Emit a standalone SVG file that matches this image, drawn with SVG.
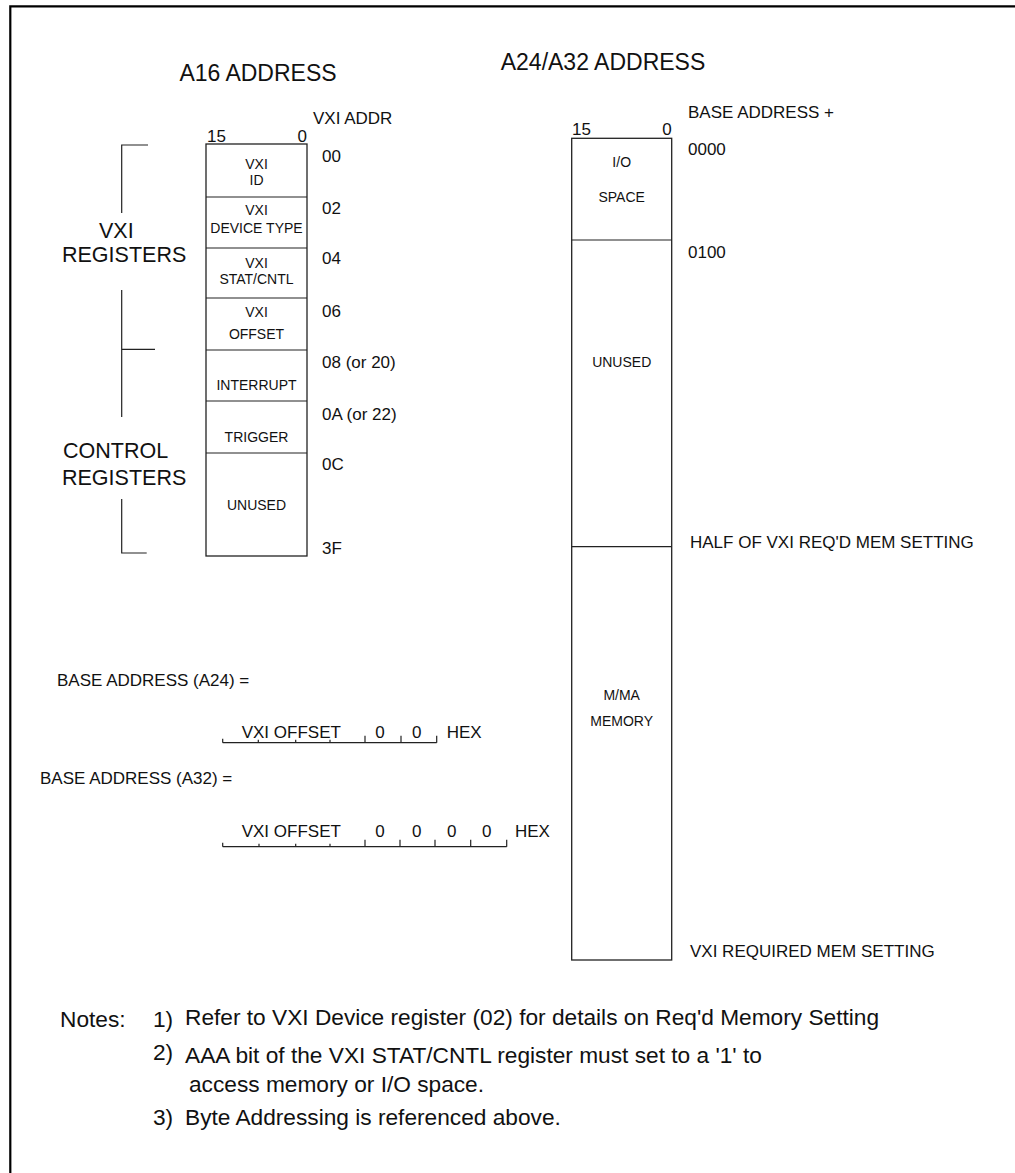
<svg xmlns="http://www.w3.org/2000/svg" width="1015" height="1173" viewBox="0 0 1015 1173">
<style>
text{font-family:"Liberation Sans",Arial,sans-serif;fill:#111}
.reg{font-size:14px;text-anchor:middle}
.lbl{font-size:17px}
.big{font-size:21.5px}
.ttl{font-size:23px;text-anchor:middle}
.note{font-size:22.7px}
.box{fill:none;stroke:#222;stroke-width:1.3}
.ln{fill:none;stroke:#222;stroke-width:1.2}
</style>
<rect width="1015" height="1173" fill="#fff"/>
<path d="M10.3,1173 V6.3 H1015" fill="none" stroke="#000" stroke-width="2.2"/>

<text class="ttl" x="258" y="81">A16 ADDRESS</text>
<text class="ttl" x="603" y="70">A24/A32 ADDRESS</text>

<g id="a16-stack">
<text class="lbl" x="313" y="124">VXI ADDR</text>
<text class="lbl" x="207" y="142">15</text>
<text class="lbl" x="307" y="142" text-anchor="end">0</text>
<rect class="box" x="206" y="144" width="101" height="412"/>
<path class="ln" d="M206,197H307M206,248H307M206,298H307M206,350H307M206,401H307M206,453H307"/>
</g>
<g id="reg-id"><text class="reg" x="256.5" y="169">VXI</text><text class="reg" x="256.5" y="185">ID</text></g>
<g id="reg-devtype"><text class="reg" x="256.5" y="215">VXI</text><text class="reg" x="256.5" y="233">DEVICE TYPE</text></g>
<g id="reg-stat"><text class="reg" x="256.5" y="268">VXI</text><text class="reg" x="256.5" y="284">STAT/CNTL</text></g>
<g id="reg-offset"><text class="reg" x="256.5" y="317">VXI</text><text class="reg" x="256.5" y="339">OFFSET</text></g>
<g id="reg-int"><text class="reg" x="256.5" y="390">INTERRUPT</text></g>
<g id="reg-trig"><text class="reg" x="256.5" y="442">TRIGGER</text></g>
<g id="reg-unused"><text class="reg" x="256.5" y="510">UNUSED</text></g>

<g id="a16-addr">
<text class="lbl" x="322" y="162">00</text>
<text class="lbl" x="322" y="214">02</text>
<text class="lbl" x="322" y="264">04</text>
<text class="lbl" x="322" y="317">06</text>
<text class="lbl" x="322" y="368">08 (or 20)</text>
<text class="lbl" x="322" y="420">0A (or 22)</text>
<text class="lbl" x="322" y="470">0C</text>
<text class="lbl" x="322" y="554">3F</text>
</g>

<g id="brackets">
<path class="ln" d="M148,145H121.7V213M121.7,290V417M121.7,349.3H155M121.7,499V553H146.7"/>
<text class="big" x="99" y="238">VXI</text>
<text class="big" x="62" y="262">REGISTERS</text>
<text class="big" x="63" y="458">CONTROL</text>
<text class="big" x="62" y="485">REGISTERS</text>
</g>

<g id="base-a24">
<text class="lbl" x="57" y="686">BASE ADDRESS (A24) =</text>
<path class="ln" d="M222.7,742.7H436.7M222.7,742.7v-4M258.3,742.7v-3M295.7,742.7v-3M330,742.7v-3M365,742.7v-7M401,742.7v-7M436.7,742.7v-7"/>
<text class="lbl" x="241.7" y="738">VXI OFFSET</text>
<text class="lbl" x="380" y="738" text-anchor="middle">0</text>
<text class="lbl" x="416.7" y="738" text-anchor="middle">0</text>
<text class="lbl" x="446.7" y="738">HEX</text>
</g>

<g id="base-a32">
<text class="lbl" x="40" y="784">BASE ADDRESS (A32) =</text>
<path class="ln" d="M222.7,846.7H506.7M222.7,846.7v-4M259,846.7v-3M295.7,846.7v-3M330,846.7v-3M365,846.7v-7M400,846.7v-7M435,846.7v-7M470.7,846.7v-7M506.7,846.7v-7"/>
<text class="lbl" x="241.7" y="836.7">VXI OFFSET</text>
<text class="lbl" x="380" y="836.7" text-anchor="middle">0</text>
<text class="lbl" x="416.7" y="836.7" text-anchor="middle">0</text>
<text class="lbl" x="451.7" y="836.7" text-anchor="middle">0</text>
<text class="lbl" x="486.7" y="836.7" text-anchor="middle">0</text>
<text class="lbl" x="515" y="836.7">HEX</text>
</g>

<g id="a24-stack">
<text class="lbl" x="572" y="135">15</text>
<text class="lbl" x="671.7" y="135" text-anchor="end">0</text>
<rect class="box" x="571.7" y="138.3" width="100" height="821.7"/>
<path class="ln" d="M571.7,240H671.7M571.7,546.7H671.7"/>
<text class="lbl" x="688" y="118">BASE ADDRESS +</text>
<text class="lbl" x="688" y="155">0000</text>
<text class="lbl" x="688" y="258">0100</text>
<text class="lbl" x="690" y="548">HALF OF VXI REQ'D MEM SETTING</text>
<text class="lbl" x="690" y="956.7">VXI REQUIRED MEM SETTING</text>
</g>
<g id="io-space"><text class="reg" x="621.7" y="167">I/O</text><text class="reg" x="621.7" y="201.7">SPACE</text></g>
<g id="a24-unused"><text class="reg" x="621.7" y="367">UNUSED</text></g>
<g id="mma-memory"><text class="reg" x="621.7" y="700">M/MA</text><text class="reg" x="621.7" y="726">MEMORY</text></g>

<g id="notes">
<text class="note" x="60" y="1027">Notes:</text>
<text class="note" x="153" y="1027">1)</text>
<text class="note" x="185" y="1025">Refer to VXI Device register (02) for details on Req'd Memory Setting</text>
<text class="note" x="153" y="1060">2)</text>
<text class="note" x="185" y="1063">AAA bit of the VXI STAT/CNTL register must set to a '1' to</text>
<text class="note" x="189" y="1092">access memory or I/O space.</text>
<text class="note" x="153" y="1125">3)</text>
<text class="note" x="185" y="1125">Byte Addressing is referenced above.</text>
</g>
</svg>
